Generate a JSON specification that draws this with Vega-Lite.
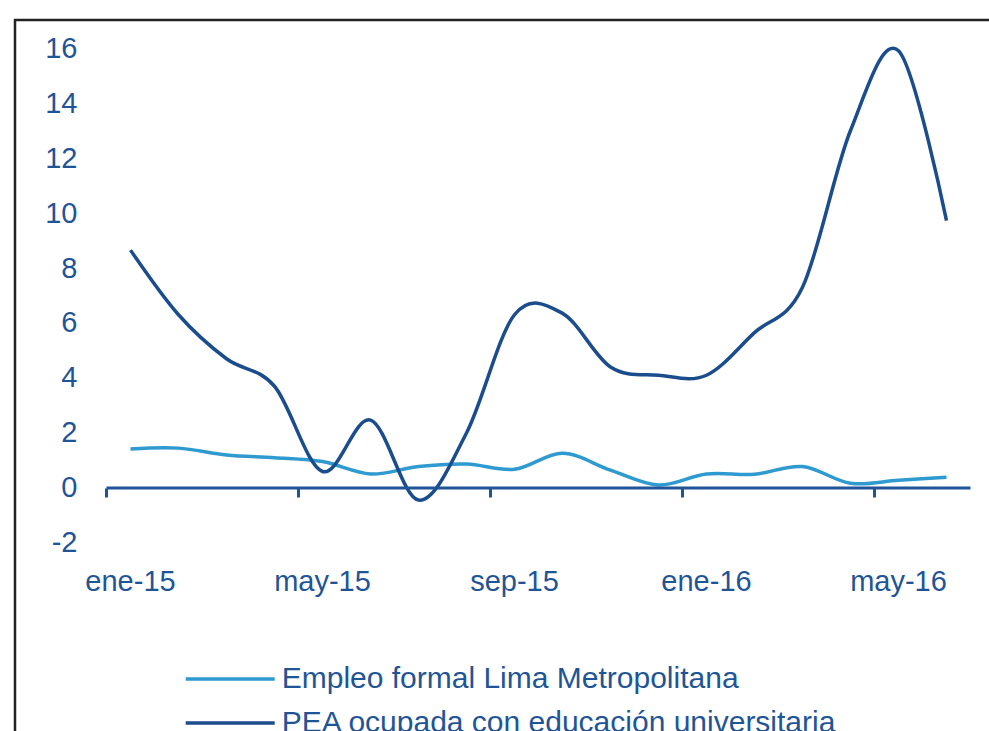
{
  "$schema": "https://vega.github.io/schema/vega-lite/v6.json",
  "width": 1000,
  "height": 730,
  "autosize": "none",
  "padding": {"left": 15, "top": 20, "right": 0, "bottom": 0},
  "background": "white",
  "config": {
    "view": {"stroke": "#222222", "strokeWidth": 2.5},
    "font": "Liberation Sans"
  },
  "datasets": {
    "series": [
      {"mes": "ene-15", "serie": "Empleo formal Lima Metropolitana", "valor": 1.42},
      {"mes": "feb-15", "serie": "Empleo formal Lima Metropolitana", "valor": 1.45},
      {"mes": "mar-15", "serie": "Empleo formal Lima Metropolitana", "valor": 1.2},
      {"mes": "abr-15", "serie": "Empleo formal Lima Metropolitana", "valor": 1.1},
      {"mes": "may-15", "serie": "Empleo formal Lima Metropolitana", "valor": 0.96},
      {"mes": "jun-15", "serie": "Empleo formal Lima Metropolitana", "valor": 0.51},
      {"mes": "jul-15", "serie": "Empleo formal Lima Metropolitana", "valor": 0.78},
      {"mes": "ago-15", "serie": "Empleo formal Lima Metropolitana", "valor": 0.87},
      {"mes": "sep-15", "serie": "Empleo formal Lima Metropolitana", "valor": 0.68},
      {"mes": "oct-15", "serie": "Empleo formal Lima Metropolitana", "valor": 1.26},
      {"mes": "nov-15", "serie": "Empleo formal Lima Metropolitana", "valor": 0.65},
      {"mes": "dic-15", "serie": "Empleo formal Lima Metropolitana", "valor": 0.11},
      {"mes": "ene-16", "serie": "Empleo formal Lima Metropolitana", "valor": 0.51},
      {"mes": "feb-16", "serie": "Empleo formal Lima Metropolitana", "valor": 0.5},
      {"mes": "mar-16", "serie": "Empleo formal Lima Metropolitana", "valor": 0.78},
      {"mes": "abr-16", "serie": "Empleo formal Lima Metropolitana", "valor": 0.17},
      {"mes": "may-16", "serie": "Empleo formal Lima Metropolitana", "valor": 0.28},
      {"mes": "jun-16", "serie": "Empleo formal Lima Metropolitana", "valor": 0.39},
      {"mes": "ene-15", "serie": "PEA ocupada  con educación universitaria", "valor": 8.65},
      {"mes": "feb-15", "serie": "PEA ocupada  con educación universitaria", "valor": 6.3},
      {"mes": "mar-15", "serie": "PEA ocupada  con educación universitaria", "valor": 4.7},
      {"mes": "abr-15", "serie": "PEA ocupada  con educación universitaria", "valor": 3.7},
      {"mes": "may-15", "serie": "PEA ocupada  con educación universitaria", "valor": 0.6},
      {"mes": "jun-15", "serie": "PEA ocupada  con educación universitaria", "valor": 2.47},
      {"mes": "jul-15", "serie": "PEA ocupada  con educación universitaria", "valor": -0.44},
      {"mes": "ago-15", "serie": "PEA ocupada  con educación universitaria", "valor": 2.0},
      {"mes": "sep-15", "serie": "PEA ocupada  con educación universitaria", "valor": 6.3},
      {"mes": "oct-15", "serie": "PEA ocupada  con educación universitaria", "valor": 6.35},
      {"mes": "nov-15", "serie": "PEA ocupada  con educación universitaria", "valor": 4.4},
      {"mes": "dic-15", "serie": "PEA ocupada  con educación universitaria", "valor": 4.1},
      {"mes": "ene-16", "serie": "PEA ocupada  con educación universitaria", "valor": 4.1},
      {"mes": "feb-16", "serie": "PEA ocupada  con educación universitaria", "valor": 5.65},
      {"mes": "mar-16", "serie": "PEA ocupada  con educación universitaria", "valor": 7.3},
      {"mes": "abr-16", "serie": "PEA ocupada  con educación universitaria", "valor": 13.0},
      {"mes": "may-16", "serie": "PEA ocupada  con educación universitaria", "valor": 15.9},
      {"mes": "jun-16", "serie": "PEA ocupada  con educación universitaria", "valor": 9.72}
    ]
  },
  "layer": [
    {
      "data": {"name": "series"},
      "mark": {"type": "line", "interpolate": "cardinal", "strokeWidth": 3.5},
      "encoding": {
        "x": {
          "field": "mes",
          "type": "ordinal",
          "bandPosition": 0.5,
          "scale": {
            "type": "band",
            "domain": ["ene-15", "feb-15", "mar-15", "abr-15", "may-15", "jun-15", "jul-15", "ago-15", "sep-15", "oct-15", "nov-15", "dic-15", "ene-16", "feb-16", "mar-16", "abr-16", "may-16", "jun-16"],
            "paddingInner": 0,
            "paddingOuter": 0,
            "range": [91.5, 955.5]
          },
          "axis": {
            "title": null,
            "orient": "bottom",
            "offset": -262,
            "values": ["ene-15", "may-15", "sep-15", "ene-16", "may-16"],
            "bandPosition": 0,
            "labelOffset": 0,
            "domain": false,
            "ticks": true,
            "tickSize": 9,
            "tickWidth": 3,
            "tickColor": "#1F5597",
            "labelPadding": 70,
            "labelFontSize": 29,
            "labelColor": "#1F5597",
            "labelAngle": 0,
            "labelOverlap": false,
            "grid": false
          }
        },
        "y": {
          "field": "valor",
          "type": "quantitative",
          "scale": {"domain": [-9.5273, 17.0182], "nice": false, "zero": false},
          "axis": {
            "title": null,
            "orient": "left",
            "offset": -62,
            "values": [-2, 0, 2, 4, 6, 8, 10, 12, 14, 16],
            "labelExpr": "'' + datum.value",
            "domain": false,
            "ticks": false,
            "tickSize": 0,
            "labelPadding": 0,
            "labelFontSize": 29,
            "labelColor": "#1F5597",
            "labelOverlap": false,
            "grid": false
          }
        },
        "color": {
          "field": "serie",
          "type": "nominal",
          "scale": {
            "domain": ["Empleo formal Lima Metropolitana", "PEA ocupada  con educación universitaria"],
            "range": ["#2E9AD0", "#1B4C8C"]
          },
          "legend": {
            "title": null,
            "orient": "none",
            "legendX": 198.2,
            "legendY": 642,
            "direction": "vertical",
            "symbolType": "M-3,0H3",
            "symbolSize": 880,
            "symbolStrokeWidth": 3.5,
            "labelFontSize": 30,
            "labelColor": "#1F5597",
            "labelOffset": 34.5,
            "labelLimit": 1000,
            "rowPadding": 12,
            "padding": 0
          }
        }
      }
    },
    {
      "data": {"values": [{}]},
      "mark": {"type": "rule", "color": "#1F5597", "strokeWidth": 3},
      "encoding": {
        "x": {"datum": "ene-15", "type": "ordinal", "bandPosition": 0},
        "x2": {"datum": "jun-16", "bandPosition": 1},
        "y": {"datum": 0, "type": "quantitative"}
      }
    }
  ]
}
